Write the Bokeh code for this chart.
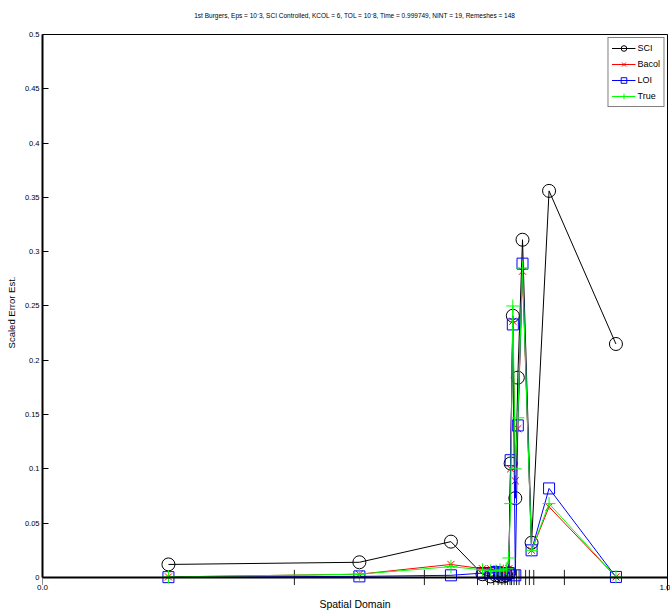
from bokeh.plotting import figure
from bokeh.models import (Range1d, LinearAxis, FixedTicker, CustomJSTickFormatter,
                          PrintfTickFormatter, Span, Title)
from bokeh.embed import file_html
from bokeh.resources import INLINE

# ---- data ----
x_mid = [0.2015, 0.507, 0.6535, 0.704, 0.717, 0.7255, 0.732, 0.7375, 0.742, 0.746,
         0.749, 0.7525, 0.7565, 0.7605, 0.768, 0.7825, 0.8105, 0.9175]
sci = [0.012, 0.014, 0.033, 0.003, 0.001, 0.002, 0.001, 0.001, 0.002, 0.004,
       0.105, 0.241, 0.073, 0.184, 0.311, 0.032, 0.356, 0.215]
bacol = [0.0005, 0.003, 0.012, 0.008, 0.008, 0.007, 0.008, 0.007, 0.006, 0.008,
         0.100, 0.236, 0.089, 0.137, 0.282, 0.025, 0.065, 0.0005]
loi = [0.0003, 0.001, 0.002, 0.004, 0.004, 0.005, 0.004, 0.003, 0.003, 0.004,
       0.108, 0.233, 0.002, 0.140, 0.289, 0.025, 0.082, 0.0005]
true_err = [0.0005, 0.003, 0.010, 0.007, 0.006, 0.006, 0.007, 0.006, 0.008, 0.018,
            0.068, 0.250, 0.100, 0.147, 0.285, 0.025, 0.068, 0.0005]
mesh = [0.0, 0.403, 0.611, 0.696, 0.712, 0.722, 0.729, 0.735, 0.740, 0.744, 0.748,
        0.7505, 0.7545, 0.7585, 0.7625, 0.773, 0.779, 0.786, 0.835, 1.0]
y_ticks = [0, 0.05, 0.1, 0.15, 0.2, 0.25, 0.3, 0.35, 0.4, 0.45, 0.5]
x_ticks = [0.0, 1.0]

title_text = ("1st Burgers, Eps = 10\u207b3, SCI Controlled, KCOL = 6, TOL = 10\u207b8, "
              "Time = 0.999749, NINT = 19, Remeshes = 148")

FONT = "Liberation Sans"
INK = "#000000"

p = figure(width=670, height=614, output_backend="svg", toolbar_location=None,
           x_range=Range1d(0, 1), y_range=Range1d(-0.012, 0.5),
           x_axis_type=None, y_axis_type=None,
           min_border_left=42, min_border_right=3, min_border_top=0, min_border_bottom=24)
p.outline_line_color = None
p.background_fill_color = "white"
p.border_fill_color = "white"

p.title.text = title_text
p.title.text_font = FONT
p.title.text_font_size = "6.5px"
p.title.text_font_style = "normal"
p.title.text_color = INK
p.title.align = "center"
p.title.offset = -16
p.title.standoff = 18

# left axis
yaxis = LinearAxis(bounds=(0, 0.5), ticker=FixedTicker(ticks=y_ticks, minor_ticks=[]),
                   formatter=CustomJSTickFormatter(code="return (Math.round(tick*100)/100).toString();"),
                   axis_label="Scaled Error Est.")
yaxis.axis_line_width = 2
yaxis.major_tick_in = 6
yaxis.major_tick_out = 0
yaxis.major_label_standoff = 3
yaxis.major_label_text_font = FONT
yaxis.major_label_text_font_size = "7.5px"
yaxis.major_label_text_color = INK
yaxis.axis_label_text_font = FONT
yaxis.axis_label_text_font_size = "9.5px"
yaxis.axis_label_text_font_style = "normal"
yaxis.axis_label_text_color = INK
yaxis.axis_label_standoff = 5
p.add_layout(yaxis, "left")

# bottom labels
xaxis = LinearAxis(ticker=FixedTicker(ticks=x_ticks, minor_ticks=[]),
                   formatter=PrintfTickFormatter(format="%.1f"),
                   axis_label="Spatial Domain")
xaxis.axis_line_color = None
xaxis.major_tick_line_color = None
xaxis.minor_tick_line_color = None
xaxis.major_tick_in = 0
xaxis.major_tick_out = 0
xaxis.major_label_standoff = -6
xaxis.major_label_text_font = FONT
xaxis.major_label_text_font_size = "8px"
xaxis.major_label_text_color = INK
xaxis.axis_label_text_font = FONT
xaxis.axis_label_text_font_size = "10.5px"
xaxis.axis_label_text_font_style = "normal"
xaxis.axis_label_text_color = INK
xaxis.axis_label_standoff = 5
p.add_layout(xaxis, "below")

# top and right box lines
for side in ("above", "right"):
    ax = LinearAxis(ticker=FixedTicker(ticks=[], minor_ticks=[]))
    ax.axis_line_color = "black"
    ax.axis_line_width = 1
    ax.major_tick_line_color = None
    ax.minor_tick_line_color = None
    ax.major_label_text_font_size = "0px"
    ax.major_label_standoff = 0
    p.add_layout(ax, side)

# spacer above the title
p.add_layout(Title(text=" ", text_font_size="4.5px", standoff=0), "above")

# zero line and mesh ticks
p.add_layout(Span(location=0, dimension="width", line_color="black", line_width=2))
tick_half = 0.007
p.segment(x0=mesh, y0=[-tick_half] * len(mesh), x1=mesh, y1=[tick_half] * len(mesh),
          line_color="#222222", line_width=1)

series = [
    ("SCI", sci, "black", "circle", 13),
    ("Bacol", bacol, "#ff0000", "x", 10),
    ("LOI", loi, "#0000ff", "square", 11),
    ("True", true_err, "#00ff00", "cross", 13),
]
for name, vals, col, mk, sz in series:
    p.line(x_mid, vals, line_color=col, line_width=1, legend_label=name)
    p.scatter(x_mid, vals, marker=mk, size=sz, line_color=col, fill_color=None,
              line_width=1, legend_label=name)

lg = p.legend[0]
lg.location = "top_right"
lg.margin = 3
lg.border_line_color = "black"
lg.border_line_width = 1
lg.background_fill_color = "white"
lg.background_fill_alpha = 1
lg.label_text_font = FONT
lg.label_text_font_size = "9px"
lg.label_text_color = INK
lg.glyph_width = 24
lg.glyph_height = 14
lg.label_height = 13
lg.label_standoff = 2
lg.spacing = 2
lg.padding = 3

open("out.html", "w").write(file_html(p, INLINE))
